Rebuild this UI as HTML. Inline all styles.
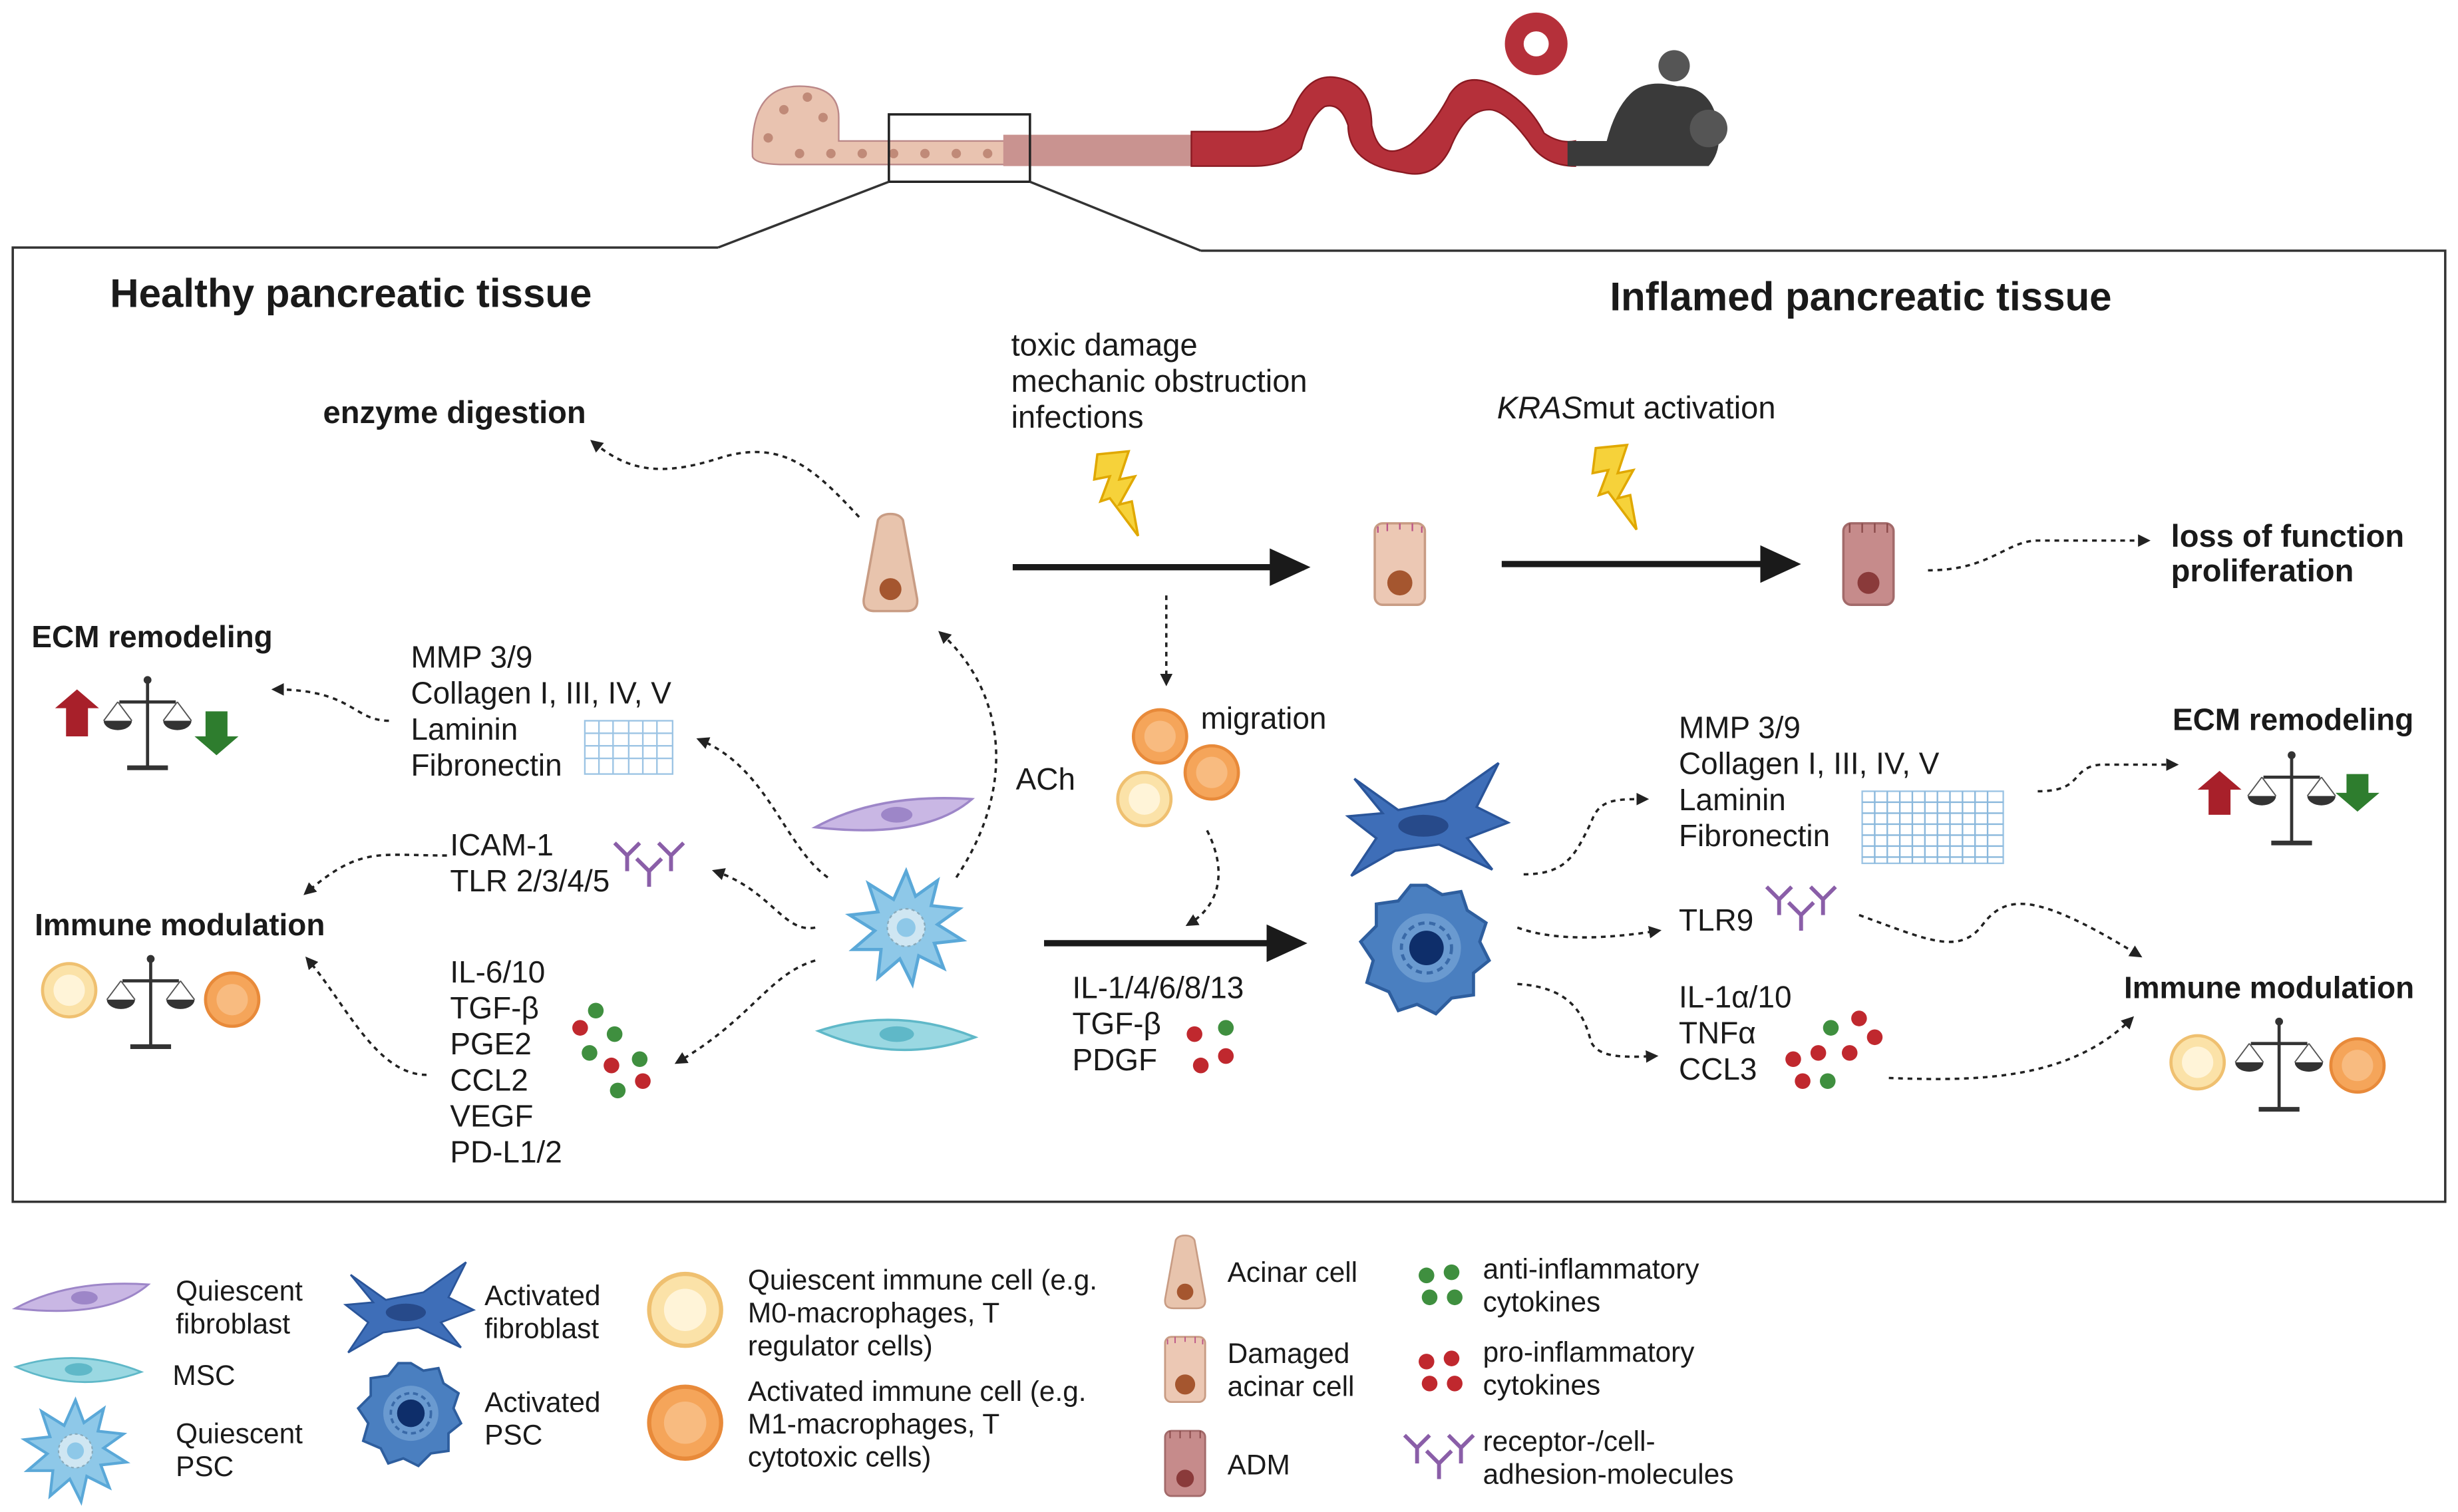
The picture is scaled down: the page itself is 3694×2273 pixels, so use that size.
<!DOCTYPE html>
<html><head><meta charset="utf-8"><style>
html,body{margin:0;padding:0;background:#fff}
svg{display:block}
text{font-family:"Liberation Sans",Arial,sans-serif;fill:#1a1a1a}
.b{font-weight:bold}
</style></head><body>
<svg width="3694" height="2273" viewBox="0 0 1568 965" xmlns="http://www.w3.org/2000/svg">
<defs>
<marker id="ah" markerWidth="8" markerHeight="8" refX="6" refY="4" orient="auto" markerUnits="userSpaceOnUse"><path d="M0,0 L8,4 L0,8 z" fill="#222"/></marker>
<marker id="bh" markerWidth="26" markerHeight="24" refX="22" refY="12" orient="auto" markerUnits="userSpaceOnUse"><path d="M0,0 L26,12 L0,24 z" fill="#1a1a1a"/></marker>
<g id="bal"><line x1="0" y1="-28" x2="0" y2="28" stroke="#333" stroke-width="2"/><line x1="-18" y1="-14" x2="18" y2="-14" stroke="#333" stroke-width="2"/><line x1="-13" y1="28" x2="13" y2="28" stroke="#333" stroke-width="3"/><circle cx="0" cy="-28" r="2.5" fill="#333"/><path d="M-28,-2 a9,6 0 0 0 18,0z M10,-2 a9,6 0 0 0 18,0z" fill="#333"/><path d="M-19,-14 L-28,-2 M-19,-14 L-10,-2 M19,-14 L10,-2 M19,-14 L28,-2" stroke="#555" stroke-width="0.8" fill="none"/></g>
<g id="rec"><path d="M0,0 L0,-10 M0,-10 L-8,-18 M0,-10 L8,-18" stroke="#8a5ea8" stroke-width="2.5" fill="none"/></g>
<g id="recs"><use href="#rec" x="0" y="0"/><use href="#rec" x="14" y="10"/><use href="#rec" x="28" y="0"/></g>
<g id="bolt"><path d="M0,0 L20,-2 L14,16 L24,14 L14,32 L22,30 L26,52 L8,28 L2,30 L8,14 L-2,16z" fill="#f6d23a" stroke="#e0a800" stroke-width="1.5"/></g>
<g id="acinar"><path d="M-8,-30 Q-6,-34 0,-34 Q6,-34 8,-30 L17,20 Q18,28 10,28 L-10,28 Q-18,28 -17,20z" fill="#e8c4ad" stroke="#c89c84" stroke-width="1.5"/><circle cx="0" cy="14" r="7" fill="#a5562f"/></g>
<g id="dam"><rect x="-16" y="-26" width="32" height="52" rx="5" fill="#ecc8b4" stroke="#c89c84" stroke-width="1.5"/><path d="M-14,-24 v4 M-8,-26 v5 M0,-26 v4 M8,-26 v5 M14,-24 v4" stroke="#b58" stroke-width="1"/><circle cx="0" cy="12" r="8" fill="#a5562f"/></g>
<g id="adm"><rect x="-16" y="-26" width="32" height="52" rx="5" fill="#c68b8b" stroke="#a26a6a" stroke-width="1.5"/><path d="M-12,-26 v6 M-4,-26 v6 M4,-26 v6 M12,-26 v6" stroke="#8a4a4a" stroke-width="1"/><circle cx="0" cy="12" r="7" fill="#8a3a3a"/></g>
<g id="qim"><circle r="17" fill="#fbe2a8" stroke="#efc070" stroke-width="2"/><circle r="10" fill="#fff4d8"/></g>
<g id="aim"><circle r="17" fill="#f5a55a" stroke="#e88a3a" stroke-width="2"/><circle r="10" fill="#f8bb80"/></g>
<g id="qpsc"><path d="M0,-36 L6,-20 L20,-30 L16,-14 L34,-12 L20,-2 L36,8 L18,10 L24,26 L8,18 L4,36 L-4,20 L-18,32 L-16,14 L-34,14 L-20,2 L-36,-8 L-18,-10 L-24,-28 L-8,-18z" fill="#8ec8e8" stroke="#5aa8d8" stroke-width="2"/><circle r="12" fill="#cfe6f2" stroke="#8ab" stroke-dasharray="2,2"/><circle r="6" fill="#8ec8e8"/></g>
<g id="apsc"><path d="M0,-40 L10,-34 L22,-36 L26,-24 L38,-16 L34,-4 L40,8 L30,16 L30,30 L16,32 L6,42 L-6,36 L-18,40 L-24,28 L-38,22 L-34,8 L-42,-4 L-32,-14 L-32,-28 L-18,-30 L-10,-40z" fill="#4a7fc0" stroke="#2e5e9e" stroke-width="2"/><circle r="22" fill="#6a9ad0"/><circle r="16" fill="none" stroke="#3a6aa8" stroke-width="2" stroke-dasharray="4,3"/><circle r="11" fill="#0e2e6a"/></g>
<g id="afib"><path d="M-48,-28 L-20,-8 L10,-14 L44,-38 L30,-10 L50,0 L24,10 L40,30 L6,14 L-22,18 L-50,34 L-34,10 L-52,-4 L-30,-6z" fill="#3e6eb8" stroke="#2a559a" stroke-width="1.5"/><ellipse cx="-4" cy="2" rx="16" ry="7" fill="#274a8a"/></g>
<g id="qfib"><path d="M-50,6 Q-10,-16 50,-12 Q20,14 -50,6z" fill="#c9b7e4" stroke="#9d86c8" stroke-width="1.5"/><ellipse cx="2" cy="-2" rx="10" ry="5" fill="#9d86c8"/></g>
<g id="msc"><path d="M-50,-2 Q0,-18 50,2 Q0,20 -50,-2z" fill="#9ad8e2" stroke="#5fb8c8" stroke-width="1.5"/><ellipse cx="0" cy="0" rx="11" ry="5" fill="#5fb8c8"/></g>
<g id="mesh"><rect x="0" y="0" width="56" height="34" fill="none" stroke="#9cc4e4" stroke-width="1"/><path d="M0,8h56M0,16h56M0,24h56M9,0v34M18,0v34M28,0v34M37,0v34M46,0v34" stroke="#9cc4e4" stroke-width="1"/></g>
<g id="mesh2"><rect x="0" y="0" width="90" height="46" fill="none" stroke="#9cc4e4"/><path d="M0,7h90M0,14h90M0,21h90M0,28h90M0,35h90M0,42h90M8,0v46M16,0v46M24,0v46M32,0v46M40,0v46M48,0v46M56,0v46M64,0v46M72,0v46M80,0v46" stroke="#8ab8dc" stroke-width="1"/></g>
</defs>
<rect width="1568" height="965" fill="#fff"/>
<!-- top tissue -->
<path d="M480,100 Q478,55 510,55 Q535,55 535,75 L535,90 L760,90 L760,105 L500,105 Q482,105 480,100z" fill="#e9c3b0" stroke="#b88" stroke-width="1"/>
<g fill="#c08a78"><circle cx="500" cy="70" r="3"/><circle cx="515" cy="62" r="3"/><circle cx="525" cy="75" r="3"/><circle cx="490" cy="88" r="3"/><circle cx="510" cy="98" r="3"/><circle cx="530" cy="98" r="3"/><circle cx="550" cy="98" r="3"/><circle cx="570" cy="98" r="3"/><circle cx="590" cy="98" r="3"/><circle cx="610" cy="98" r="3"/><circle cx="630" cy="98" r="3"/></g>
<rect x="640" y="86" width="120" height="20" fill="#c99390"/>
<path d="M760,84 L800,84 Q820,84 825,70 Q835,45 855,50 Q875,55 875,80 Q880,105 900,92 Q915,80 925,60 Q935,45 955,55 Q975,65 985,85 Q995,92 1005,90 L1005,106 Q985,106 975,90 Q960,70 950,70 Q935,70 925,95 Q915,115 895,110 Q860,105 860,80 Q855,65 845,68 Q835,75 830,95 Q820,106 800,106 L760,106z" fill="#b5303a" stroke="#8a1a22"/>
<circle cx="980" cy="28" r="20" fill="#b5303a"/><circle cx="980" cy="28" r="8" fill="#fff"/>
<path d="M1000,90 L1000,106 L1090,106 Q1100,95 1095,75 Q1090,55 1070,55 Q1050,50 1040,60 Q1030,70 1025,90z" fill="#3a3a3a"/>
<circle cx="1068" cy="42" r="10" fill="#555"/><circle cx="1090" cy="82" r="12" fill="#555"/>
<rect x="567" y="73" width="90" height="43" fill="none" stroke="#222" stroke-width="1.5"/>
<!-- main frame -->
<path d="M458,158 L8,158 L8,767 L1560,767 L1560,160 L766,160" fill="none" stroke="#333" stroke-width="1.5"/>
<path d="M458,158 L567,116 M657,116 L766,160" stroke="#333" stroke-width="1.5"/>
<g font-size="20">
<text x="70" y="196" font-size="25.5" class="b">Healthy pancreatic tissue</text>
<text x="1027" y="198" font-size="25.5" class="b">Inflamed pancreatic tissue</text>
<text x="206" y="270" class="b">enzyme digestion</text>
<text x="645" y="227">toxic damage</text>
<text x="645" y="250">mechanic obstruction</text>
<text x="645" y="273">infections</text>
<text x="955" y="267"><tspan font-style="italic">KRAS</tspan>mut activation</text>
<text x="1385" y="349" class="b">loss of function</text>
<text x="1385" y="371" class="b">proliferation</text>
</g>
<use href="#bolt" x="700" y="290"/><use href="#bolt" x="1018" y="286"/>
<use href="#acinar" x="568" y="362"/><use href="#dam" x="893" y="360"/><use href="#adm" x="1192" y="360"/>
<line x1="646" y1="362" x2="832" y2="362" stroke="#1a1a1a" stroke-width="4" marker-end="url(#bh)"/>
<line x1="958" y1="360" x2="1145" y2="360" stroke="#1a1a1a" stroke-width="4" marker-end="url(#bh)"/>
<line x1="666" y1="602" x2="830" y2="602" stroke="#1a1a1a" stroke-width="4" marker-end="url(#bh)"/>
<g fill="none" stroke="#222" stroke-width="1.5" stroke-dasharray="3,3" marker-end="url(#ah)">
<path d="M548,330 C520,300 500,280 460,292 C420,305 400,300 378,282"/>
<path d="M744,380 L744,436"/>
<path d="M1230,364 C1270,364 1280,345 1300,345 L1370,345"/>
<path d="M248,460 C225,460 225,440 175,440"/>
<path d="M528,560 C500,540 490,490 446,472"/>
<path d="M285,546 C240,546 230,540 195,570"/>
<path d="M520,592 C500,596 492,568 456,556"/>
<path d="M520,613 C490,622 480,650 432,678"/>
<path d="M272,686 C240,686 220,640 196,612"/>
<path d="M610,560 C650,500 640,440 600,404"/>
<path d="M770,530 C785,560 775,580 758,590"/>
<path d="M972,558 C1000,558 1005,545 1015,525 C1020,510 1030,510 1050,510"/>
<path d="M968,592 C990,600 1020,600 1058,594"/>
<path d="M968,628 C1000,630 1010,645 1015,665 C1020,675 1035,675 1056,674"/>
<path d="M1300,505 C1330,505 1320,490 1340,488 L1388,488"/>
<path d="M1186,584 C1230,600 1250,610 1265,590 C1280,570 1300,570 1365,610"/>
<path d="M1205,688 C1260,690 1320,690 1360,650"/>
</g>
<g font-size="19.5">
<text x="262" y="426">MMP 3/9</text>
<text x="262" y="449">Collagen I, III, IV, V</text>
<text x="262" y="472">Laminin</text>
<text x="262" y="495">Fibronectin</text>
<text x="20" y="413" font-size="19.5" class="b">ECM remodeling</text>
<text x="287" y="546">ICAM-1</text>
<text x="287" y="569">TLR 2/3/4/5</text>
<text x="22" y="597" class="b">Immune modulation</text>
<text x="287" y="627">IL-6/10</text>
<text x="287" y="650">TGF-β</text>
<text x="287" y="673">PGE2</text>
<text x="287" y="696">CCL2</text>
<text x="287" y="719">VEGF</text>
<text x="287" y="742">PD-L1/2</text>
<text x="648" y="504">ACh</text>
<text x="766" y="465">migration</text>
<text x="684" y="637">IL-1/4/6/8/13</text>
<text x="684" y="660">TGF-β</text>
<text x="684" y="683">PDGF</text>
<text x="1071" y="471">MMP 3/9</text>
<text x="1071" y="494">Collagen I, III, IV, V</text>
<text x="1071" y="517">Laminin</text>
<text x="1071" y="540">Fibronectin</text>
<text x="1386" y="466" class="b">ECM remodeling</text>
<text x="1071" y="594">TLR9</text>
<text x="1071" y="643">IL-1α/10</text>
<text x="1071" y="666">TNFα</text>
<text x="1071" y="689">CCL3</text>
<text x="1355" y="637" class="b">Immune modulation</text>
</g>
<use href="#mesh" x="373" y="460"/>
<path d="M42,470 L42,452 L35,452 L49,440 L63,452 L56,452 L56,470z" fill="#a8202a"/>
<use href="#bal" x="94" y="462"/>
<path d="M131,454 L131,470 L124,470 L138,482 L152,470 L145,470 L145,454z" fill="#2e7d2e"/>
<use href="#recs" x="400" y="556"/>
<use href="#qim" x="44" y="632"/><use href="#bal" x="96" y="640"/><use href="#aim" x="148" y="638"/>
<g><circle cx="380" cy="645" r="5" fill="#3f8f3f"/><circle cx="370" cy="656" r="5" fill="#c0282e"/><circle cx="392" cy="660" r="5" fill="#3f8f3f"/><circle cx="376" cy="672" r="5" fill="#3f8f3f"/><circle cx="408" cy="676" r="5" fill="#3f8f3f"/><circle cx="390" cy="680" r="5" fill="#c0282e"/><circle cx="410" cy="690" r="5" fill="#c0282e"/><circle cx="394" cy="696" r="5" fill="#3f8f3f"/></g>
<use href="#qfib" x="570" y="522"/><use href="#qpsc" x="578" y="592"/><use href="#msc" x="572" y="660"/>
<use href="#aim" x="740" y="470"/><use href="#aim" x="773" y="493"/><use href="#qim" x="730" y="510"/>
<g><circle cx="762" cy="660" r="5" fill="#c0282e"/><circle cx="782" cy="656" r="5" fill="#3f8f3f"/><circle cx="766" cy="680" r="5" fill="#c0282e"/><circle cx="782" cy="674" r="5" fill="#c0282e"/></g>
<use href="#afib" x="912" y="525"/><use href="#apsc" x="910" y="605"/>
<use href="#mesh2" x="1188" y="505"/>
<path d="M1409,520 L1409,504 L1402,504 L1416,492 L1430,504 L1423,504 L1423,520z" fill="#a8202a"/>
<use href="#bal" x="1462" y="510"/>
<path d="M1497,494 L1497,506 L1490,506 L1504,518 L1518,506 L1511,506 L1511,494z" fill="#2e7d2e"/>
<use href="#recs" x="1135" y="584"/>
<g><circle cx="1168" cy="656" r="5" fill="#3f8f3f"/><circle cx="1186" cy="650" r="5" fill="#c0282e"/><circle cx="1196" cy="662" r="5" fill="#c0282e"/><circle cx="1160" cy="672" r="5" fill="#c0282e"/><circle cx="1180" cy="672" r="5" fill="#c0282e"/><circle cx="1144" cy="676" r="5" fill="#c0282e"/><circle cx="1150" cy="690" r="5" fill="#c0282e"/><circle cx="1166" cy="690" r="5" fill="#3f8f3f"/></g>
<use href="#qim" x="1402" y="678"/><use href="#bal" x="1454" y="680"/><use href="#aim" x="1504" y="680"/>
<!-- legend -->
<g font-size="18">
<g transform="translate(52,830) scale(0.85)"><use href="#qfib"/></g><text x="112" y="830">Quiescent</text><text x="112" y="851">fibroblast</text>
<g transform="translate(50,874) scale(0.8)"><use href="#msc"/></g><text x="110" y="884">MSC</text>
<g transform="translate(48,926) scale(0.9)"><use href="#qpsc"/></g><text x="112" y="921">Quiescent</text><text x="112" y="942">PSC</text>
<g transform="translate(262,836) scale(0.8)"><use href="#afib"/></g><text x="309" y="833">Activated</text><text x="309" y="854">fibroblast</text>
<g transform="translate(262,902) scale(0.8)"><use href="#apsc"/></g><text x="309" y="901">Activated</text><text x="309" y="922">PSC</text>
<g transform="translate(437,836) scale(1.35)"><use href="#qim"/></g>
<text x="477" y="823">Quiescent immune cell (e.g.</text><text x="477" y="844">M0-macrophages, T</text><text x="477" y="865">regulator cells)</text>
<g transform="translate(437,908) scale(1.35)"><use href="#aim"/></g>
<text x="477" y="894">Activated immune cell (e.g.</text><text x="477" y="915">M1-macrophages, T</text><text x="477" y="936">cytotoxic cells)</text>
<g transform="translate(756,814) scale(0.75)"><use href="#acinar"/></g><text x="783" y="818">Acinar cell</text>
<g transform="translate(756,874) scale(0.8)"><use href="#dam"/></g><text x="783" y="870">Damaged</text><text x="783" y="891">acinar cell</text>
<g transform="translate(756,934) scale(0.8)"><use href="#adm"/></g><text x="783" y="941">ADM</text>
<g><circle cx="910" cy="814" r="5" fill="#3f8f3f"/><circle cx="926" cy="812" r="5" fill="#3f8f3f"/><circle cx="912" cy="828" r="5" fill="#3f8f3f"/><circle cx="928" cy="828" r="5" fill="#3f8f3f"/></g>
<text x="946" y="816">anti-inflammatory</text><text x="946" y="837">cytokines</text>
<g><circle cx="910" cy="869" r="5" fill="#c0282e"/><circle cx="926" cy="867" r="5" fill="#c0282e"/><circle cx="912" cy="883" r="5" fill="#c0282e"/><circle cx="928" cy="883" r="5" fill="#c0282e"/></g>
<text x="946" y="869">pro-inflammatory</text><text x="946" y="890">cytokines</text>
<use href="#recs" x="904" y="934"/>
<text x="946" y="926">receptor-/cell-</text><text x="946" y="947">adhesion-molecules</text>
</g>
</svg>
</body></html>
